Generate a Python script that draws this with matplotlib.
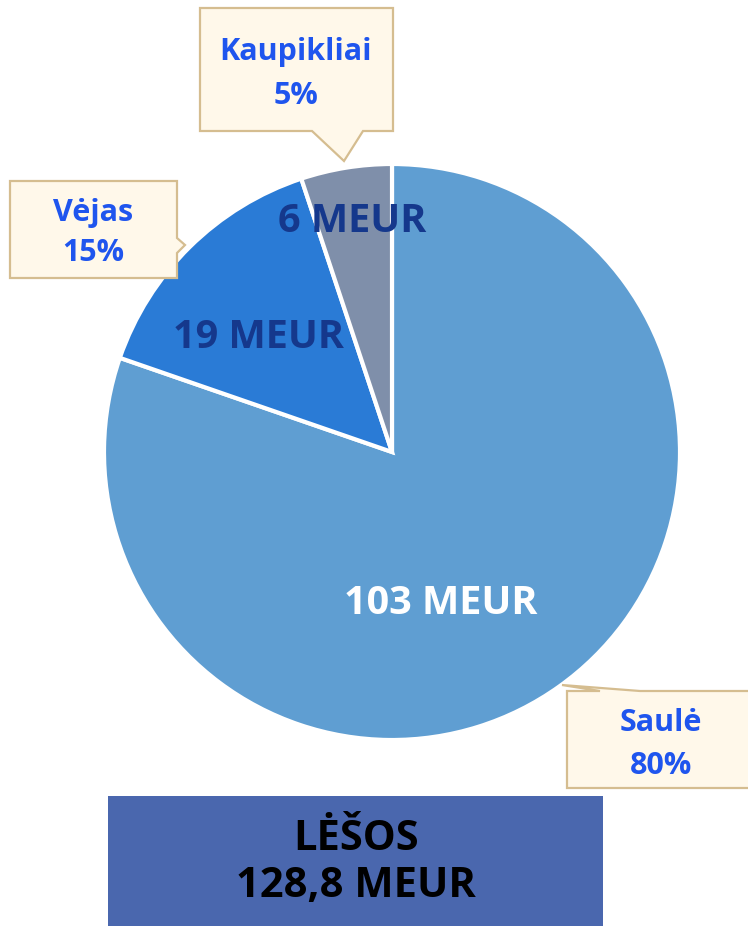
import matplotlib.pyplot as plt
from matplotlib.patches import Polygon, Rectangle

# Data
sources = ["Saulė", "Vėjas", "Kaupikliai"]
shares = [80.3, 14.6, 5.1]  # % of total funds
value_labels = ["103 MEUR", "19 MEUR", "6 MEUR"]
total_label = "128,8 MEUR"
slice_colors = ["#5F9ED2", "#2A7BD6", "#7F8FAA"]
value_colors = ["white", "#15388C", "#15388C"]

W, H = 748, 926
FONT = "Open Sans"


def py(y):
    """Convert a pixel row (top origin) to data y (bottom origin)."""
    return H - y


fig = plt.figure(figsize=(W / 100, H / 100), dpi=100)
ax = fig.add_axes([0, 0, 1, 1])

# Pie
ax.pie(shares, colors=slice_colors, startangle=90, counterclock=False,
       center=(392, py(452)), radius=288,
       wedgeprops={"edgecolor": "white", "linewidth": 3})
ax.set_xlim(0, W)
ax.set_ylim(0, H)
ax.set_aspect("equal")
ax.axis("off")

# Value labels inside slices
value_pos = [(441, 604), (259, 338), (352, 221)]
for lab, (x, y), c in zip(value_labels, value_pos, value_colors):
    ax.text(x, py(y), lab, color=c, fontsize=28.5, fontweight="bold",
            family=FONT, ha="center", va="center")

# Callout boxes
box_fc = "#FFF8EA"
box_ec = "#D5BD90"
callouts = [
    [(567, 691), (600, 691), (562, 685), (640, 691), (760, 691), (760, 788), (567, 788)],
    [(10, 181), (177, 181), (177, 238), (185, 245), (177, 253), (177, 278), (10, 278)],
    [(200, 8), (393, 8), (393, 131), (363, 131), (344, 161), (312, 131), (200, 131)],
]
callout_text = [(661, 723, 766), (93, 213, 253), (296, 52, 96)]
for name, share, pts, (tx, y1, y2) in zip(sources, shares, callouts, callout_text):
    ax.add_patch(Polygon([(x, py(y)) for x, y in pts], closed=True,
                         facecolor=box_fc, edgecolor=box_ec, linewidth=1.6,
                         joinstyle="miter", clip_on=False))
    ax.text(tx, py(y1), name, color="#1F55EE", fontsize=22, fontweight="bold",
            family=FONT, ha="center", va="center")
    ax.text(tx, py(y2), f"{round(share)}%", color="#1F55EE", fontsize=22,
            fontweight="bold", family=FONT, ha="center", va="center")

# Total box at the bottom
ax.add_patch(Rectangle((108, py(926)), 495, 130, facecolor="#4A67AE", edgecolor="none"))
ax.text(356, py(839), "LĖŠOS", color="black", fontsize=30, fontweight="bold",
        family=FONT, ha="center", va="center")
ax.text(356, py(886), total_label, color="black", fontsize=30,
        fontweight="bold", family=FONT, ha="center", va="center")

fig.savefig("out.png", dpi=100)
